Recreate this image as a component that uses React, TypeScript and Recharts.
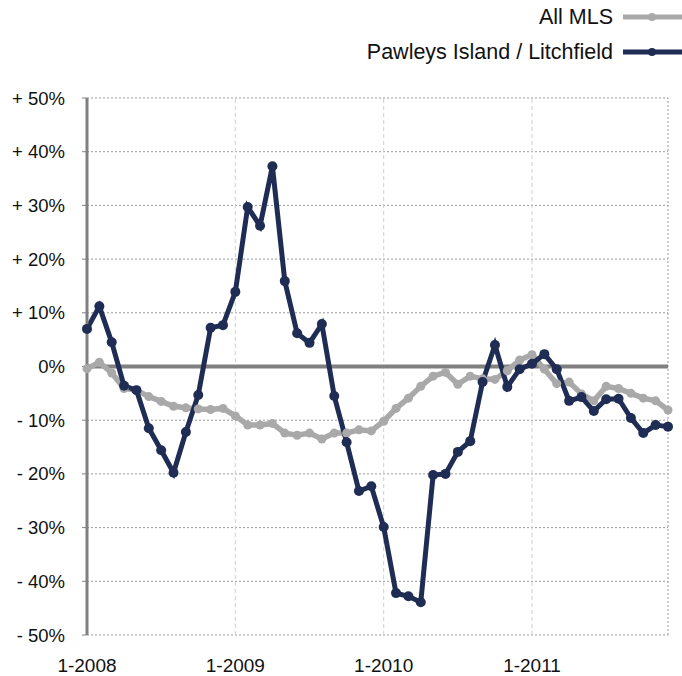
import React from "react";
import { LineChart, Line, XAxis, YAxis, CartesianGrid, ReferenceLine, Legend } from "recharts";

const months: string[] = [
  "1-2008", "2-2008", "3-2008", "4-2008", "5-2008", "6-2008", "7-2008", "8-2008", "9-2008", "10-2008", "11-2008", "12-2008",
  "1-2009", "2-2009", "3-2009", "4-2009", "5-2009", "6-2009", "7-2009", "8-2009", "9-2009", "10-2009", "11-2009", "12-2009",
  "1-2010", "2-2010", "3-2010", "4-2010", "5-2010", "6-2010", "7-2010", "8-2010", "9-2010", "10-2010", "11-2010", "12-2010",
  "1-2011", "2-2011", "3-2011", "4-2011", "5-2011", "6-2011", "7-2011", "8-2011", "9-2011", "10-2011", "11-2011", "12-2011",
];

const allMls: number[] = [
  -0.4, 0.8, -1.2, -4.1, -4.4, -5.6, -6.5, -7.4, -7.7, -7.9, -8.0, -7.8,
  -9.2, -10.9, -10.9, -10.6, -12.4, -12.8, -12.4, -13.5, -12.4, -12.4, -11.8, -12.0,
  -10.2, -7.8, -5.9, -3.7, -1.8, -1.1, -3.3, -1.8, -2.3, -2.4, -0.8, 1.2,
  2.2, -0.5, -3.2, -2.9, -5.1, -6.4, -3.7, -4.1, -5.0, -5.9, -6.4, -8.1,
];

const pawleys: number[] = [
  7.0, 11.2, 4.5, -3.6, -4.4, -11.5, -15.6, -19.8, -12.2, -5.3, 7.2, 7.7,
  13.9, 29.7, 26.2, 37.3, 15.9, 6.2, 4.4, 7.9, -5.5, -14.1, -23.2, -22.3,
  -29.9, -42.2, -42.8, -43.9, -20.2, -20.0, -15.9, -13.9, -2.9, 4.0, -3.8, -0.5,
  0.5, 2.3, -0.5, -6.4, -5.7, -8.3, -6.1, -6.0, -9.6, -12.4, -10.9, -11.2,
];

const yTicks: number[] = [50, 40, 30, 20, 10, 0, -10, -20, -30, -40, -50];
const yearTicks: string[] = ["1-2009", "1-2010", "1-2011"];

const seriesNames = { all: "All MLS", pawleys: "Pawleys Island / Litchfield" };
const GREY = "#a9a9a9";
const NAVY = "#1f2d55";
const FONT = "'Liberation Sans', Arial, Helvetica, sans-serif";

const data = months.map((m, i) => ({ month: m, all: allMls[i], pawleys: pawleys[i] }));

const fmtY = (v: number) => (v > 0 ? `+ ${v}%` : v < 0 ? `- ${Math.abs(v)}%` : "0%");

const LegendContent = () => (
  <svg width={682} height={98} style={{ display: "block" }}>
    <text x={613} y={24} textAnchor="end" fontSize={21.5} fontFamily={FONT} fill="#111">
      {seriesNames.all}
    </text>
    <line x1={623} x2={682} y1={17} y2={17} stroke={GREY} strokeWidth={5} />
    <circle cx={652} cy={17} r={4} fill={GREY} />
    <text x={613} y={59} textAnchor="end" fontSize={21.5} fontFamily={FONT} fill="#111">
      {seriesNames.pawleys}
    </text>
    <line x1={623} x2={682} y1={52} y2={52} stroke={NAVY} strokeWidth={5} />
    <circle cx={652} cy={52} r={4} fill={NAVY} />
  </svg>
);

export default function App() {
  return (
    <div style={{ position: "absolute", left: 0, top: 0, width: 682, height: 676, background: "#fff" }}>
      <LineChart
        width={682}
        height={676}
        data={data}
        margin={{ top: 0, right: 14, bottom: 0, left: 0 }}
        style={{ fontFamily: FONT }}
      >
        <Legend
          verticalAlign="top"
          align="left"
          layout="horizontal"
          content={() => <LegendContent />}
          wrapperStyle={{ top: 0, left: 0, width: 682, height: 98, margin: 0, padding: 0 }}
        />
        <CartesianGrid vertical={false} stroke="#999" strokeDasharray="2 2" />
        {yearTicks.map((t) => (
          <ReferenceLine key={t} x={t} stroke="#d0d0d0" strokeDasharray="4 3" />
        ))}
        <ReferenceLine x="12-2011" stroke="#999" strokeDasharray="2 2" />
        <ReferenceLine y={0} stroke="#808080" strokeWidth={4} />
        <XAxis
          dataKey="month"
          type="category"
          interval={11}
          height={41}
          axisLine={false}
          tickLine={false}
          tickSize={0}
          tickMargin={24}
          tick={{ fontSize: 19, fill: "#111", fontFamily: FONT }}
        />
        <YAxis
          type="number"
          domain={[-50, 50]}
          ticks={yTicks}
          width={87}
          tickFormatter={fmtY}
          axisLine={{ stroke: "#808080", strokeWidth: 3 }}
          tickLine={{ stroke: "#808080", strokeWidth: 1 }}
          tickSize={5}
          tickMargin={17}
          tick={{ fontSize: 18.5, fill: "#111", fontFamily: FONT }}
        />
        <Line
          type="linear"
          dataKey="all"
          name={seriesNames.all}
          stroke={GREY}
          strokeWidth={5.5}
          dot={{ r: 4.5, fill: GREY, stroke: GREY, strokeWidth: 0 }}
          isAnimationActive={false}
        />
        <Line
          type="linear"
          dataKey="pawleys"
          name={seriesNames.pawleys}
          stroke={NAVY}
          strokeWidth={5}
          dot={{ r: 5, fill: NAVY, stroke: NAVY, strokeWidth: 0 }}
          isAnimationActive={false}
        />
      </LineChart>
    </div>
  );
}
